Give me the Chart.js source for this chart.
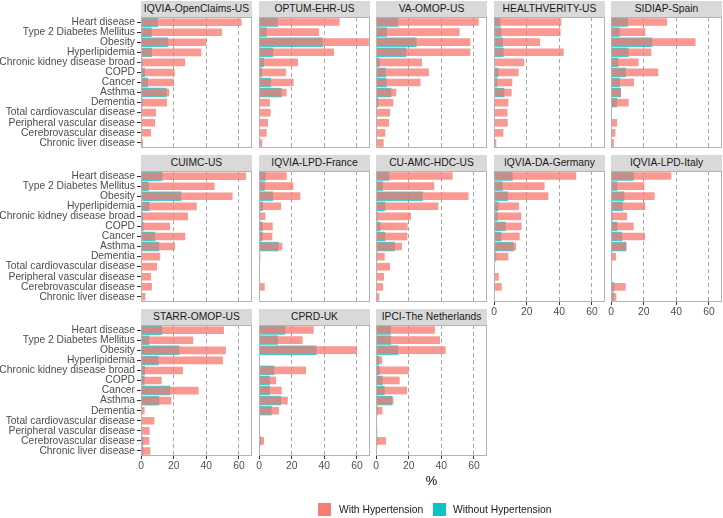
<!DOCTYPE html>
<html>
<head>
<meta charset="utf-8">
<script src="https://cdn.jsdelivr.net/npm/chart.js@4.4.0/dist/chart.umd.min.js"></script>
<style>
  html, body { margin: 0; padding: 0; background: #fff; overflow: hidden; }
  #wrap { position: relative; width: 723px; height: 518px; font-family: 'Liberation Sans', Arial, sans-serif; }
  .strip { position: absolute; height: 16px; line-height: 16px; background: #d9d9d9; color: #1a1a1a;
           font-size: 10.3px; text-align: center; white-space: nowrap; }
  canvas { position: absolute; }
  .key { position: absolute; width: 13px; height: 13px; }
  .txt { position: absolute; font-size: 10.3px; color: #1a1a1a; white-space: nowrap; }
</style>
</head>
<body>
<div id="wrap"></div>
<script>
// categories (top to bottom)
const conditions = ['Heart disease', 'Type 2 Diabetes Mellitus', 'Obesity', 'Hyperlipidemia',
  'Chronic kidney disease broad', 'COPD', 'Cancer', 'Asthma', 'Dementia',
  'Total cardiovascular disease', 'Peripheral vascular disease', 'Cerebrovascular disease',
  'Chronic liver disease'];
const xTicks = [0, 20, 40, 60];
const seriesNames = ['With Hypertension', 'Without Hypertension'];

// % per database, same order as conditions
const openClaimsWith     = [61.6, 49.6, 40.0, 37.0, 27.0, 20.6, 20.2, 17.3, 15.9, 9.2, 8.6, 6.1, 1.2];
const openClaimsWithout  = [10.4, 6.5, 16.7, 6.7, 1.0, 2.4, 4.3, 15.7, 1.0, 0.2, 0.2, 0.3, 0.1];
const optumWith          = [49.4, 36.7, 67.3, 45.9, 23.9, 16.5, 21.2, 16.9, 6.7, 7.1, 5.5, 4.7, 2.0];
const optumWithout       = [11.6, 4.7, 39.0, 8.6, 3.1, 1.8, 7.3, 13.9, 0.4, 0.2, 0.2, 0.2, 0.2];
const vaWith             = [62.9, 51.2, 57.8, 57.8, 28.2, 32.4, 27.3, 12.4, 10.6, 8.6, 8.0, 5.7, 4.7];
const vaWithout          = [13.7, 6.7, 24.9, 18.6, 2.2, 6.1, 6.5, 9.4, 1.4, 0.4, 0.4, 0.6, 0.6];
const healthverityWith   = [41.2, 40.8, 28.2, 42.7, 18.6, 15.1, 11.2, 10.8, 8.8, 8.2, 8.4, 5.7, 1.4];
const healthverityWithout= [3.9, 4.5, 5.5, 5.9, 0.6, 2.7, 2.0, 6.3, 0.6, 0.2, 0.4, 0.2, 0.2];
const sidiapWith         = [34.3, 21.0, 51.8, 24.7, 16.9, 29.0, 14.1, 5.9, 10.8, 0, 3.7, 2.7, 1.8];
const sidiapWithout      = [10.4, 5.3, 25.3, 10.8, 4.5, 9.2, 5.5, 6.1, 3.7, 0, 0.6, 0.6, 0.6];
const cuimcWith          = [64.3, 45.1, 56.1, 34.1, 28.8, 17.8, 27.1, 20.8, 11.8, 9.8, 6.1, 6.7, 2.7];
const cuimcWithout       = [13.1, 4.7, 24.7, 5.1, 1.2, 1.6, 8.8, 11.2, 0.6, 0.2, 0.2, 0.6, 0.2];
const franceWith         = [16.9, 21.0, 25.3, 13.5, 3.9, 8.4, 8.2, 14.3, 0.8, 0, 0, 3.5, 0];
const franceWithout      = [4.1, 3.5, 8.6, 2.4, 0.2, 2.2, 2.2, 12.0, 0.2, 0, 0, 0.4, 0.2];
const cuAmcWith          = [46.9, 35.7, 56.7, 38.2, 21.4, 19.4, 19.2, 15.9, 5.3, 8.6, 4.9, 4.3, 2.0];
const cuAmcWithout       = [8.2, 4.3, 28.6, 5.7, 1.0, 2.7, 5.7, 11.6, 0.8, 0, 0, 0.2, 0.2];
const germanyWith        = [50.4, 31.0, 33.3, 15.3, 16.7, 16.9, 15.7, 13.5, 8.8, 0, 2.9, 4.7, 0.6];
const germanyWithout     = [11.4, 5.3, 8.6, 2.7, 2.2, 7.1, 4.5, 12.0, 1.4, 0, 0, 0.4, 0];
const italyWith          = [36.9, 20.4, 26.7, 21.0, 9.8, 13.9, 20.8, 9.4, 3.1, 0, 0.4, 9.0, 3.3];
const italyWithout       = [13.9, 3.9, 8.2, 7.3, 1.0, 3.9, 6.9, 9.4, 0.8, 0, 0, 2.0, 1.6];
const starrWith          = [50.8, 32.0, 52.0, 50.2, 25.7, 12.7, 35.3, 18.6, 2.2, 8.2, 5.3, 5.1, 5.7];
const starrWithout       = [12.9, 5.1, 23.5, 10.8, 2.4, 2.2, 17.8, 11.2, 0, 0, 0, 1.4, 1.4];
const cprdWith           = [33.5, 26.7, 60.0, 0, 28.8, 10.4, 13.9, 17.6, 12.2, 0, 0, 3.1, 0];
const cprdWithout        = [16.1, 11.6, 35.3, 0, 9.4, 6.7, 6.7, 13.5, 7.8, 0, 0, 1.2, 0];
const ipciWith           = [36.1, 39.2, 42.7, 3.7, 20.0, 14.5, 19.0, 10.6, 3.9, 0, 0.8, 6.1, 0];
const ipciWithout        = [9.0, 9.2, 13.7, 2.0, 2.2, 4.1, 5.3, 10.0, 1.0, 0, 0, 1.0, 0];

const panels = [
  ['IQVIA-OpenClaims-US', openClaimsWith, openClaimsWithout],
  ['OPTUM-EHR-US', optumWith, optumWithout],
  ['VA-OMOP-US', vaWith, vaWithout],
  ['HEALTHVERITY-US', healthverityWith, healthverityWithout],
  ['SIDIAP-Spain', sidiapWith, sidiapWithout],
  ['CUIMC-US', cuimcWith, cuimcWithout],
  ['IQVIA-LPD-France', franceWith, franceWithout],
  ['CU-AMC-HDC-US', cuAmcWith, cuAmcWithout],
  ['IQVIA-DA-Germany', germanyWith, germanyWithout],
  ['IQVIA-LPD-Italy', italyWith, italyWithout],
  ['STARR-OMOP-US', starrWith, starrWithout],
  ['CPRD-UK', cprdWith, cprdWithout],
  ['IPCI-The Netherlands', ipciWith, ipciWithout]
];

const withColor = 'rgba(248,118,109,0.75)';
const withoutColor = 'rgba(0,191,196,0.75)';
const font = { family: "'Liberation Sans', Arial, sans-serif", size: 10.3 };

// facet geometry
const colLeft = [141, 259, 376, 494, 611];
const rowTop = [17, 171, 325];
const panelW = 111, panelH = 131, axisH = 16, M = 8;

const wrap = document.getElementById('wrap');

// grey frame around each panel
const panelBorder = {
  id: 'panelBorder',
  afterDatasetsDraw(chart) {
    const a = chart.chartArea, ctx = chart.ctx;
    ctx.save();
    ctx.strokeStyle = '#b3b3b3';
    ctx.lineWidth = 1;
    ctx.strokeRect(Math.round(a.left) + 0.5, Math.round(a.top) + 0.5,
      Math.round(a.right - a.left) - 1, Math.round(a.bottom - a.top) - 1);
    ctx.restore();
  }
};

panels.forEach(function(p, i) {
  const row = Math.floor(i / 5), col = i % 5;
  const showX = row === 2 || (row === 1 && col >= 3);
  const left = colLeft[col], top = rowTop[row];

  const strip = document.createElement('div');
  strip.className = 'strip';
  strip.style.left = left + 'px';
  strip.style.top = (top - 16) + 'px';
  strip.style.width = panelW + 'px';
  strip.textContent = p[0];
  wrap.appendChild(strip);

  const canvas = document.createElement('canvas');
  const cx = col === 0 ? 0 : left - M;
  const cw = left + panelW + M - cx;
  const ch = panelH + 2 * M + (showX ? axisH : 0);
  canvas.width = cw;
  canvas.height = ch;
  canvas.style.width = cw + 'px';
  canvas.style.height = ch + 'px';
  canvas.style.left = cx + 'px';
  canvas.style.top = (top - M) + 'px';
  wrap.appendChild(canvas);

  new Chart(canvas, {
    type: 'bar',
    data: {
      labels: conditions,
      datasets: [
        { label: seriesNames[0], data: p[1], backgroundColor: withColor, barPercentage: 0.76, categoryPercentage: 1 },
        { label: seriesNames[1], data: p[2], backgroundColor: withoutColor, barPercentage: 0.94, categoryPercentage: 1 }
      ]
    },
    options: {
      indexAxis: 'y',
      responsive: false,
      animation: false,
      devicePixelRatio: 1,
      layout: { padding: { left: col === 0 ? 0 : M, right: M, top: M, bottom: M } },
      datasets: { bar: { grouped: false } },
      plugins: { legend: { display: false }, tooltip: { enabled: false } },
      scales: {
        x: {
          min: 0,
          max: 68,
          afterBuildTicks: function(s) { s.ticks = xTicks.map(function(v) { return { value: v }; }); },
          afterFit: function(s) { s.height = showX ? axisH : 0; },
          grid: {
            color: function(c) { return c.tick && c.tick.value === 0 ? 'rgba(0,0,0,0)' : '#a6a6a6'; },
            drawTicks: showX,
            tickLength: 3,
            tickColor: '#333333'
          },
          border: { display: false, dash: [4, 3] },
          ticks: { display: showX, color: '#4d4d4d', font: font, padding: 1, maxRotation: 0, autoSkip: false }
        },
        y: {
          display: col === 0,
          afterFit: function(s) { if (col === 0) s.width = left; },
          grid: { offset: false, drawOnChartArea: false, drawTicks: true, tickLength: 4, color: '#333333', tickColor: '#333333' },
          border: { display: false },
          ticks: { color: '#4d4d4d', font: font, padding: 2, autoSkip: false }
        }
      }
    },
    plugins: [panelBorder]
  });
});

// x-axis title
const xt = document.createElement('div');
xt.className = 'txt';
xt.style.cssText = 'left:141px;width:581px;top:473px;text-align:center;font-size:12.9px;color:#000;';
xt.textContent = '%';
wrap.appendChild(xt);

// legend
[[318, 339, withColor, seriesNames[0]], [433, 453, withoutColor, seriesNames[1]]].forEach(function(l) {
  const k = document.createElement('div');
  k.className = 'key';
  k.style.left = l[0] + 'px';
  k.style.top = '503px';
  k.style.background = l[2].replace('0.75', '0.95');
  wrap.appendChild(k);
  const t = document.createElement('div');
  t.className = 'txt';
  t.style.left = l[1] + 'px';
  t.style.top = '503px';
  t.style.lineHeight = '14px';
  t.textContent = l[3];
  wrap.appendChild(t);
});
</script>
</body>
</html>
